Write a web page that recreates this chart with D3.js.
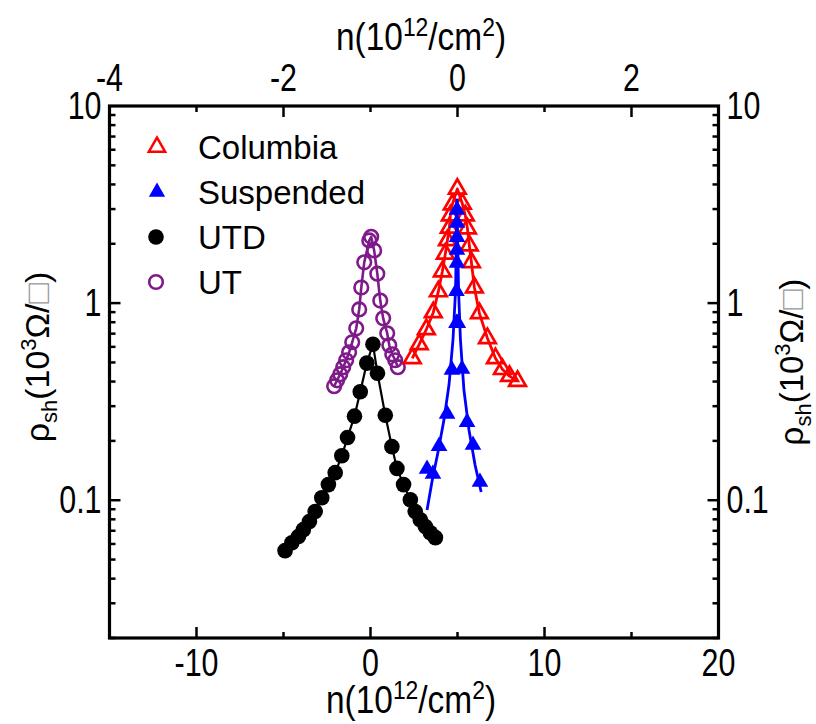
<!DOCTYPE html>
<html>
<head>
<meta charset="utf-8">
<script src="https://cdn.jsdelivr.net/npm/d3@7"></script>
<style>
  body { margin: 0; background: #fff; }
  svg text { font-family: "Liberation Sans", Arial, sans-serif; }
</style>
</head>
<body>
<svg id="chart" width="816" height="724"></svg>
<script>
// Sheet resistance vs carrier density, four sample sets: [n (1e12/cm^2), rho_sh (1e3 ohm/sq)]
const columbia = [
  [2.40,0.525],[2.80,0.618],[3.21,0.736],[3.61,0.897],[3.90,1.146],[4.13,1.446],[4.30,1.78],
  [4.42,2.08],[4.53,2.41],[4.59,2.78],[4.70,3.16],[4.99,3.80],[5.28,3.19],[5.45,2.78],[5.57,2.39],
  [5.68,1.96],[5.80,1.61],[5.97,1.20],[6.26,0.887],[6.72,0.663],[7.18,0.525],[7.58,0.462],
  [7.99,0.426],[8.45,0.402]
];
const suspended = [
  [3.25,0.144],[3.59,0.136],[3.94,0.188],[4.40,0.274],[4.68,0.458],[4.94,0.792],[4.94,1.15],
  [4.97,1.60],[4.97,1.86],[4.97,2.16],[4.97,2.55],[4.97,2.97],[5.02,0.792],
  [5.26,0.463],[5.55,0.249],[5.89,0.1905],[6.29,0.1237]
];
// smooth fit drawn through the suspended-sample points
const suspendedFit = [
  [3.25,0.0892],[3.53,0.1237],[3.88,0.1756],[4.22,0.255],[4.51,0.384],[4.74,0.650],[4.89,1.166],
  [4.97,3.34],[5.06,1.166],[5.17,0.650],[5.37,0.362],[5.66,0.227],[6.01,0.151],[6.36,0.110]
];
const utd = [
  [-4.91,0.0555],[-4.52,0.0609],[-4.14,0.0655],[-3.86,0.0709],[-3.51,0.078],[-3.18,0.0877],
  [-2.80,0.103],[-2.42,0.120],[-2.03,0.138],[-1.65,0.168],[-1.32,0.208],[-0.92,0.267],
  [-0.59,0.355],[-0.21,0.496],[0.14,0.618],[0.40,0.441],[0.85,0.270],[1.23,0.187],[1.52,0.145],
  [1.90,0.120],[2.29,0.1005],[2.57,0.0877],[2.86,0.0796],[3.15,0.0736],[3.44,0.0684],[3.73,0.0646]
];
const ut = [
  [-2.09,0.379],[-1.92,0.406],[-1.74,0.436],[-1.57,0.473],[-1.40,0.513],[-1.23,0.563],
  [-1.05,0.633],[-0.82,0.745],[-0.65,0.929],[-0.53,1.20],[-0.36,1.61],[-0.07,2.08],[0.04,2.17],
  [0.21,1.85],[0.39,1.41],[0.56,1.03],[0.73,0.837],[0.96,0.703],[1.08,0.611],[1.25,0.550],
  [1.42,0.513],[1.57,0.473]
];

const seriesNames = ["Columbia", "Suspended", "UTD", "UT"];
const xTicksBottom = [-10, 0, 10, 20];
const xMinorBottom = [-5, 5, 15];
const xTicksTop = [-4, -2, 0, 2];
const xMinorTop = [-3, -1, 1];
const yTicks = [0.1, 1, 10];
const yTickLabels = ["0.1", "1", "10"];

const svg = d3.select("#chart");
const L = 109.5, R = 718.5, T = 106, B = 638;

const x = d3.scaleLinear().domain([-15, 20]).range([L, R]);
const xTop = d3.scaleLinear().domain([-4, 3]).range([L, R]);
const y = d3.scaleLog().domain([0.02, 10]).range([B, T]);

const yMinor = [];
[0.01, 0.1, 1].forEach(d => { for (let k = 2; k <= 9; k++) { const v = d * k; if (v >= 0.02 && v < 10) yMinor.push(v); } });

const axisG = svg.append("g");
// ticks, all pointing inward
const major = 11, minor = 6;
const tickStyle = s => s.attr("stroke", "#000").attr("stroke-width", 2.5);
xTicksBottom.filter(v => v < 20).forEach(v => tickStyle(axisG.append("line").attr("x1", x(v)).attr("x2", x(v)).attr("y1", B).attr("y2", B - major)));
xMinorBottom.forEach(v => tickStyle(axisG.append("line").attr("x1", x(v)).attr("x2", x(v)).attr("y1", B).attr("y2", B - minor)));
xTicksTop.filter(v => v > -4).forEach(v => tickStyle(axisG.append("line").attr("x1", xTop(v)).attr("x2", xTop(v)).attr("y1", T).attr("y2", T + major)));
xMinorTop.forEach(v => tickStyle(axisG.append("line").attr("x1", xTop(v)).attr("x2", xTop(v)).attr("y1", T).attr("y2", T + minor)));
yTicks.filter(v => v < 10).forEach(v => {
  tickStyle(axisG.append("line").attr("x1", L).attr("x2", L + major).attr("y1", y(v)).attr("y2", y(v)));
  tickStyle(axisG.append("line").attr("x1", R).attr("x2", R - major).attr("y1", y(v)).attr("y2", y(v)));
});
yMinor.forEach(v => {
  tickStyle(axisG.append("line").attr("x1", L).attr("x2", L + minor).attr("y1", y(v)).attr("y2", y(v)));
  tickStyle(axisG.append("line").attr("x1", R).attr("x2", R - minor).attr("y1", y(v)).attr("y2", y(v)));
});
axisG.append("rect").attr("x", L).attr("y", T).attr("width", R - L).attr("height", B - T)
  .attr("fill", "none").attr("stroke", "#000").attr("stroke-width", 3.2);

// condensed tick labels
const fs = 38, sx = 0.8;
function label(txt, px, py, anchor) {
  svg.append("text").attr("transform", `translate(${px},${py}) scale(${sx},1)`)
    .attr("text-anchor", anchor).attr("font-size", fs).text(txt);
}
xTicksBottom.forEach(v => label(d3.format("d")(v).replace("\u2212", "-"), x(v), 676, "middle"));
xTicksTop.forEach(v => label(d3.format("d")(v).replace("\u2212", "-"), xTop(v), 91, "middle"));
yTicks.forEach((v, i) => {
  label(yTickLabels[i], L - 8, y(v) + 13, "end");
  label(yTickLabels[i], R + 8, y(v) + 13, "start");
});

// axis titles
function nTitle(px, py) {
  const t = svg.append("text").attr("transform", `translate(${px},${py}) scale(0.88,1)`)
    .attr("text-anchor", "middle").attr("font-size", 38);
  t.append("tspan").text("n(10");
  t.append("tspan").attr("font-size", 26).attr("dy", -14).text("12");
  t.append("tspan").attr("dy", 14).text("/cm");
  t.append("tspan").attr("font-size", 26).attr("dy", -14).text("2");
  t.append("tspan").attr("dy", 14).text(")");
}
nTitle(421, 50);
nTitle(411, 713);

function rhoTitle(px, py, size) {
  const sub = Math.round(size * 0.66);
  const t = svg.append("text").attr("transform", `translate(${px},${py}) rotate(-90)`)
    .attr("text-anchor", "middle").attr("font-size", size);
  t.append("tspan").text("\u03C1");
  t.append("tspan").attr("font-size", sub).attr("dy", 8).text("sh");
  t.append("tspan").attr("dy", -8).text("(10");
  t.append("tspan").attr("font-size", sub).attr("dy", -13).text("3");
  t.append("tspan").attr("dy", 13).text("\u03A9/");
  t.append("tspan").attr("fill", "#999").text("\u25A1");
  t.append("tspan").text(")");
}
rhoTitle(49, 357, 34);
rhoTitle(803, 362, 33);

// data
const plot = svg.append("g");
const line = d3.line().x(d => x(d[0])).y(d => y(d[1]));
const triPath = d3.symbol(d3.symbolTriangle, 120)();
const triPathLeg = d3.symbol(d3.symbolTriangle, 115)();

function drawLine(data, color, w) {
  plot.append("path").datum(data).attr("d", line).attr("fill", "none")
    .attr("stroke", color).attr("stroke-width", w).attr("stroke-linejoin", "round");
}

// UT
drawLine(ut, "#7f1a8a", 2.6);
plot.selectAll(".ut").data(ut).join("circle")
  .attr("cx", d => x(d[0])).attr("cy", d => y(d[1])).attr("r", 6.8)
  .attr("fill", "none").attr("stroke", "#7f1a8a").attr("stroke-width", 2.6);

// UTD
drawLine(utd, "#000", 2.2);
plot.selectAll(".utd").data(utd).join("circle")
  .attr("cx", d => x(d[0])).attr("cy", d => y(d[1])).attr("r", 7.8).attr("fill", "#000");

// Columbia
drawLine(columbia, "#ff0000", 2.8);
plot.selectAll(".col").data(columbia).join("path")
  .attr("d", triPath).attr("transform", d => `translate(${x(d[0])},${y(d[1])})`)
  .attr("fill", "none").attr("stroke", "#ff0000").attr("stroke-width", 2.7);

// Suspended
drawLine(suspendedFit, "#0000ff", 2.8);
plot.selectAll(".sus").data(suspended).join("path")
  .attr("d", triPath).attr("transform", d => `translate(${x(d[0])},${y(d[1])})`)
  .attr("fill", "#0000ff");

// legend
const leg = svg.append("g");
const rows = [147, 192, 237, 282];
leg.append("path").attr("d", triPathLeg).attr("transform", `translate(157,${rows[0]})`)
  .attr("fill", "none").attr("stroke", "#ff0000").attr("stroke-width", 2.5);
leg.append("path").attr("d", triPathLeg).attr("transform", `translate(157,${rows[1]})`).attr("fill", "#0000ff");
leg.append("circle").attr("cx", 156).attr("cy", rows[2]).attr("r", 7.8).attr("fill", "#000");
leg.append("circle").attr("cx", 156).attr("cy", rows[3]).attr("r", 6.8).attr("fill", "none")
  .attr("stroke", "#7f1a8a").attr("stroke-width", 2.6);
seriesNames.forEach((n, i) => {
  leg.append("text").attr("x", 198).attr("y", rows[i] + 11.5).attr("font-size", 33).text(n);
});
</script>
</body>
</html>
